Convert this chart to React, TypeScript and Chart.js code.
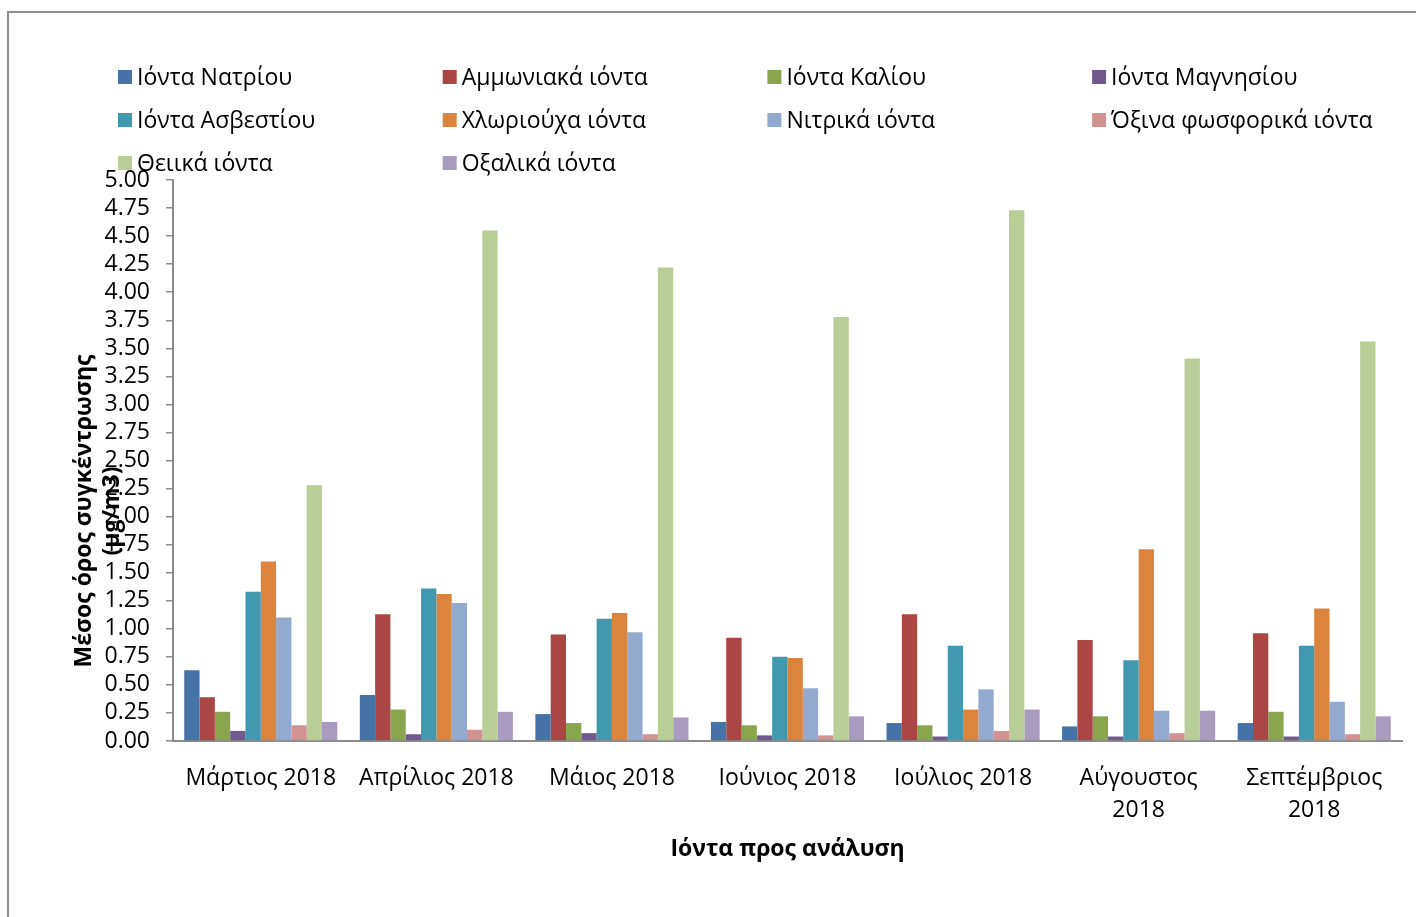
import React, { useEffect, useRef } from "react";
import { Chart, registerables } from "chart.js";

Chart.register(...registerables);

// Months (x categories); the last two wrap onto two lines
const months: (string | string[])[] = [
  "Μάρτιος 2018",
  "Απρίλιος 2018",
  "Μάιος 2018",
  "Ιούνιος 2018",
  "Ιούλιος 2018",
  ["Αύγουστος", "2018"],
  ["Σεπτέμβριος", "2018"],
];

// Mean concentration per ion (μg/m3), one value per month
const sodium = [0.63, 0.41, 0.24, 0.17, 0.16, 0.13, 0.16];
const ammonium = [0.39, 1.13, 0.95, 0.92, 1.13, 0.9, 0.96];
const potassium = [0.26, 0.28, 0.16, 0.14, 0.14, 0.22, 0.26];
const magnesium = [0.09, 0.06, 0.07, 0.05, 0.04, 0.04, 0.04];
const calcium = [1.33, 1.36, 1.09, 0.75, 0.85, 0.72, 0.85];
const chloride = [1.6, 1.31, 1.14, 0.74, 0.28, 1.71, 1.18];
const nitrate = [1.1, 1.23, 0.97, 0.47, 0.46, 0.27, 0.35];
const phosphate = [0.14, 0.1, 0.06, 0.05, 0.09, 0.07, 0.06];
const sulfate = [2.28, 4.55, 4.22, 3.78, 4.73, 3.41, 3.56];
const oxalate = [0.17, 0.26, 0.21, 0.22, 0.28, 0.27, 0.22];

const seriesNames = [
  "Ιόντα Νατρίου",
  "Αμμωνιακά ιόντα",
  "Ιόντα Καλίου",
  "Ιόντα Μαγνησίου",
  "Ιόντα Ασβεστίου",
  "Χλωριούχα ιόντα",
  "Νιτρικά ιόντα",
  "Όξινα φωσφορικά ιόντα",
  "Θειικά ιόντα",
  "Οξαλικά ιόντα",
];
const seriesValues = [
  sodium,
  ammonium,
  potassium,
  magnesium,
  calcium,
  chloride,
  nitrate,
  phosphate,
  sulfate,
  oxalate,
];
const seriesColors = [
  "#4572A7",
  "#AA4643",
  "#89A54E",
  "#71588F",
  "#4198AF",
  "#DB843D",
  "#93A9CF",
  "#D19392",
  "#B9CD96",
  "#A99BBD",
];

const yTitleLines = ["Μέσος όρος συγκέντρωσης", "(μg/m3)"];
const xTitle = "Ιόντα προς ανάλυση";

const FONT = "'Open Sans', 'Noto Sans', sans-serif";

// Legend laid out in a fixed 4-column grid above the plot
const gridLegend = {
  id: "gridLegend",
  afterDraw(chart: any) {
    const ctx = chart.ctx;
    ctx.save();
    ctx.font = `23px ${FONT}`;
    ctx.textBaseline = "middle";
    ctx.textAlign = "left";
    chart.data.datasets.forEach((ds: any, i: number) => {
      const col = i % 4;
      const row = Math.floor(i / 4);
      const x = 118 + col * 324.7;
      const y = 77 + row * 43;
      ctx.fillStyle = ds.backgroundColor;
      ctx.fillRect(x, y - 7, 14, 14);
      ctx.fillStyle = "#000";
      ctx.fillText(ds.label, x + 19, y + 1);
    });
    ctx.restore();
  },
};

// Axis titles; the y title sits close to the tick labels
const axisTitles = {
  id: "axisTitles",
  afterDraw(chart: any) {
    const { ctx, chartArea } = chart;
    ctx.save();
    ctx.fillStyle = "#000";
    ctx.font = `bold 23px ${FONT}`;
    ctx.textAlign = "center";
    ctx.textBaseline = "middle";
    ctx.fillText(xTitle, (chartArea.left + chartArea.right) / 2, chartArea.bottom + 108);

    ctx.translate(chartArea.left - 89, chartArea.top + 331);
    ctx.rotate(-Math.PI / 2);
    yTitleLines.forEach((line, i) => {
      ctx.fillText(line, 0, i * 28);
    });
    ctx.restore();
  },
};

export default function App() {
  const canvasRef = useRef<HTMLCanvasElement | null>(null);

  useEffect(() => {
    if (!canvasRef.current) return;
    const chart = new Chart(canvasRef.current, {
      type: "bar",
      data: {
        labels: months,
        datasets: seriesNames.map((name, i) => ({
          label: name,
          data: seriesValues[i],
          backgroundColor: seriesColors[i],
          borderWidth: 0,
          categoryPercentage: 0.872,
          barPercentage: 1,
        })),
      },
      options: {
        animation: false,
        responsive: false,
        maintainAspectRatio: false,
        layout: { padding: { top: 180, right: 14, bottom: 0, left: 0 } },
        plugins: {
          legend: { display: false },
          tooltip: { enabled: false },
        },
        scales: {
          x: {
            grid: { display: false },
            border: { display: true, color: "#8c8c8c", width: 2 },
            ticks: {
              color: "#000",
              font: { family: FONT, size: 23, lineHeight: 1.39 },
              padding: 13,
              maxRotation: 0,
              autoSkip: false,
            },
            afterFit(scale: any) {
              scale.height = 176;
            },
          },
          y: {
            min: 0,
            max: 5,
            grid: {
              drawOnChartArea: false,
              drawTicks: true,
              tickLength: 7,
              color: "#8c8c8c",
              lineWidth: 1.5,
            },
            border: { display: true, color: "#8c8c8c", width: 2 },
            ticks: {
              stepSize: 0.25,
              autoSkip: false,
              color: "#000",
              font: { family: FONT, size: 23, lineHeight: 1 },
              padding: 16,
              callback: (v: any) => Number(v).toFixed(2),
            },
            afterFit(scale: any) {
              scale.width = 173;
            },
          },
        },
      },
      plugins: [gridLegend, axisTitles],
    });
    return () => chart.destroy();
  }, []);

  return (
    <div
      style={{
        position: "fixed",
        left: 0,
        top: 0,
        width: 1416,
        height: 917,
        background: "#fff",
        overflow: "hidden",
      }}
    >
      <div
        style={{
          position: "absolute",
          left: 7,
          top: 11,
          width: 1430,
          height: 930,
          border: "2px solid #8e8e8e",
        }}
      />
      <canvas
        ref={canvasRef}
        width={1416}
        height={917}
        style={{ position: "absolute", left: 0, top: 0 }}
      />
    </div>
  );
}
